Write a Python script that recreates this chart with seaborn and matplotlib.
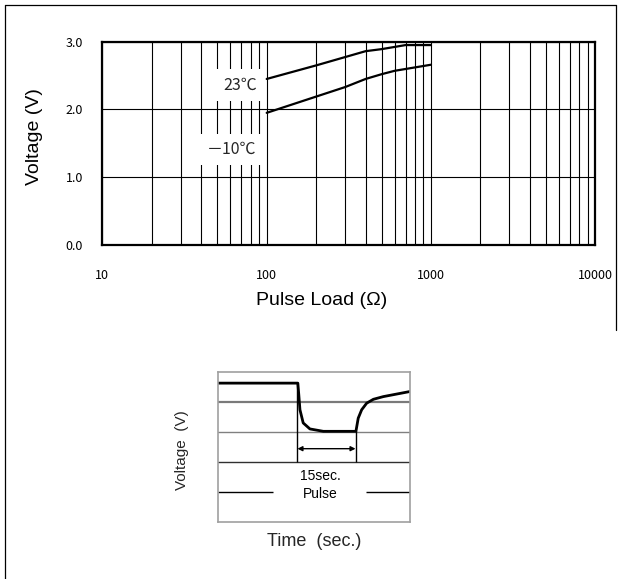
import numpy as np
import pandas as pd
import matplotlib
matplotlib.use("Agg")
import matplotlib.pyplot as plt
import seaborn as sns

# ---- data: main chart ----
load_23 = [100, 200, 400, 500, 700, 1000]
volt_23 = [2.45, 2.65, 2.86, 2.89, 2.95, 2.95]
load_m10 = [100, 200, 300, 400, 500, 600, 1000]
volt_m10 = [1.95, 2.19, 2.33, 2.45, 2.52, 2.57, 2.66]
series_names = ["23\u2103", "\uff0d10\u2103"]
x_ticks = [10, 100, 1000, 10000]
x_tick_labels = ["10", "100", "1000", "10000"]
y_ticks = [0.0, 1.0, 2.0, 3.0]
y_tick_labels = ["0.0", "1.0", "2.0", "3.0"]

# ---- data: inset pulse sketch ----
pulse_time = [0.0, 4.15, 4.20, 4.26, 4.43, 4.78, 5.48, 7.18, 7.30, 7.48, 7.74, 8.09, 8.61, 10.0]
pulse_volt = [4.64, 4.64, 4.25, 3.75, 3.31, 3.11, 3.03, 3.03, 3.47, 3.75, 3.97, 4.10, 4.19, 4.36]
pulse_start = 4.13
pulse_end = 7.16
pulse_label = ["15sec.", "Pulse"]

sns.set_theme(style="white")
plt.rcParams["font.family"] = ["Liberation Sans", "DejaVu Sans"]

fig = plt.figure(figsize=(6.21, 5.79), dpi=100)

# ---- main axes ----
ax = fig.add_axes([0.1649, 0.5769, 0.7937, 0.3511])
df = pd.concat([
    pd.DataFrame({"load": load_23, "volt": volt_23, "s": series_names[0]}),
    pd.DataFrame({"load": load_m10, "volt": volt_m10, "s": series_names[1]}),
])
sns.lineplot(data=df, x="load", y="volt", units="s", estimator=None,
             color="black", lw=1.6, ax=ax, legend=False, sort=False)
ax.set_xscale("log")
ax.set_xlim(10, 10000)
ax.set_ylim(0, 3)
ax.set_xticks(x_ticks)
ax.set_xticklabels(x_tick_labels)
ax.set_yticks(y_ticks)
ax.set_yticklabels(y_tick_labels)
ax.xaxis.set_minor_locator(matplotlib.ticker.LogLocator(base=10, subs=np.arange(2, 10)))
ax.xaxis.set_minor_formatter(matplotlib.ticker.NullFormatter())
ax.grid(True, which="both", axis="x", color="black", lw=0.8)
ax.grid(True, which="major", axis="y", color="black", lw=0.8)
ax.tick_params(axis="both", which="both", length=0, labelsize=9, colors="black")
ax.tick_params(axis="y", pad=14)
ax.tick_params(axis="x", pad=17)
for lab in ax.get_xticklabels() + ax.get_yticklabels():
    lab.set_family(["Noto Sans CJK JP", "DejaVu Sans"])
for sp in ax.spines.values():
    sp.set_color("black")
    sp.set_linewidth(1.6)
ax.set_xlabel("Pulse Load (\u03a9)", fontsize=14, color="black")
ax.set_ylabel("Voltage (V)", fontsize=14, color="black")
ax.xaxis.set_label_coords(0.445, -0.275)
ax.xaxis.label.set_va("center")
ax.yaxis.set_label_coords(-0.137, 0.533)
ax.yaxis.label.set_va("center")

box = dict(boxstyle="square,pad=0.45", fc="white", ec="none")
cjk = ["Noto Sans CJK JP", "DejaVu Sans"]
ax.text(68.8, 2.36, series_names[0], ha="center", va="center", fontsize=11.5,
        family=cjk, bbox=box, zorder=5)
ax.text(61.5, 1.41, series_names[1], ha="center", va="center", fontsize=11.5,
        family=cjk, bbox=box, zorder=5)

# ---- inset axes ----
ax2 = fig.add_axes([0.3515, 0.0984, 0.3087, 0.2585])
ax2.set_xlim(0, 10)
ax2.set_ylim(0, 5)
ax2.set_xticks([])
ax2.set_yticks([])
for sp in ax2.spines.values():
    sp.set_color("#a0a0a0")
    sp.set_linewidth(1.2)
ax2.axhline(4, color="#7a7a7a", lw=1.6)
ax2.axhline(3, color="#808080", lw=1.0)
ax2.axhline(2, color="#303030", lw=1.0)
ax2.hlines(1, 0, 2.87, color="black", lw=1.0)
ax2.hlines(1, 7.70, 10, color="black", lw=1.0)
ax2.vlines(pulse_start, 2, pulse_volt[0], color="black", lw=1.0)
ax2.vlines(pulse_end, 2, pulse_volt[6], color="black", lw=1.0)
sns.lineplot(x=pulse_time, y=pulse_volt, color="black", lw=2.0, ax=ax2, sort=False, legend=False)
ax2.annotate("", xy=(pulse_end, 2.45), xytext=(pulse_start, 2.45),
             arrowprops=dict(arrowstyle="<|-|>", color="black", lw=1.0, mutation_scale=7,
                             shrinkA=0, shrinkB=0))
ax2.text(5.34, 1.54, pulse_label[0], ha="center", va="center", fontsize=10, color="black")
ax2.text(5.31, 0.93, pulse_label[1], ha="center", va="center", fontsize=10, color="black")

fig.text(181.7 / 621, 1 - 450.5 / 579, "Voltage  (V)", rotation=90, ha="center", va="center", fontsize=11)
fig.text(314 / 621, 1 - 542 / 579, "Time  (sec.)", ha="center", va="center", fontsize=13)

# ---- outer frame ----
frame_kw = dict(color="black", lw=0.9, transform=fig.transFigure)
fig.add_artist(matplotlib.lines.Line2D([5 / 621, 5 / 621], [1 - 5 / 579, 0], **frame_kw))
fig.add_artist(matplotlib.lines.Line2D([5 / 621, 616 / 621], [1 - 5 / 579, 1 - 5 / 579], **frame_kw))
fig.add_artist(matplotlib.lines.Line2D([616 / 621, 616 / 621], [1 - 5 / 579, 1 - 330 / 579], **frame_kw))

fig.savefig("out.png", dpi=100, facecolor="white")
